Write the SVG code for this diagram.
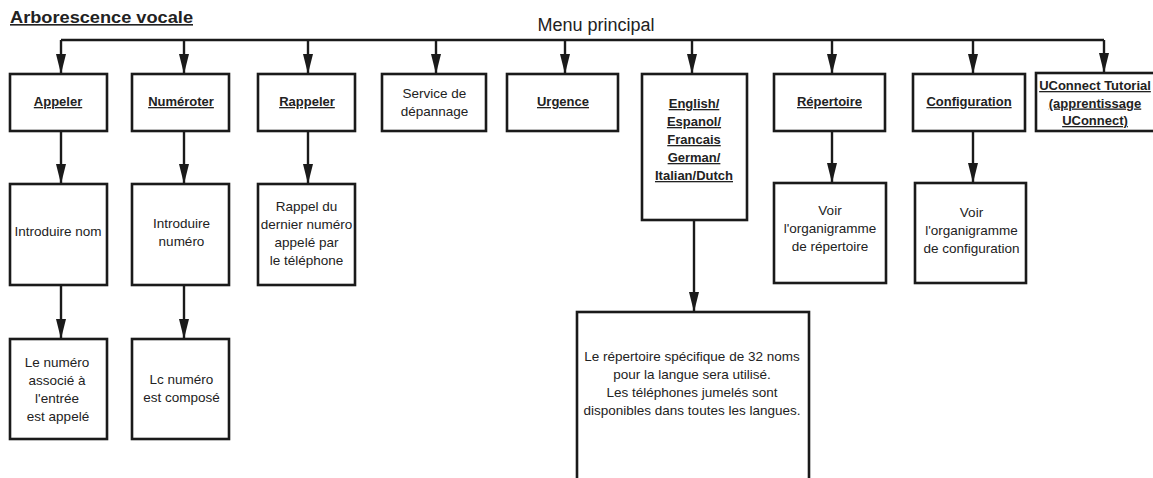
<svg xmlns="http://www.w3.org/2000/svg" width="1153" height="478" viewBox="0 0 1153 478">
<defs>
<style>
.bx{fill:#fff;stroke:#1a1a1a;stroke-width:2.6}
.cn{fill:none;stroke:#1a1a1a;stroke-width:2.4}
text{font-family:"Liberation Sans",Arial,sans-serif;fill:#222;text-anchor:middle}
.t{font-size:13px;font-weight:bold;text-decoration:underline}
.n{font-size:13.5px}
</style>
<marker id="ah" viewBox="0 0 20 10" refX="20" refY="5" markerWidth="20" markerHeight="10" markerUnits="userSpaceOnUse" orient="auto">
<path d="M0,0 L20,5 L0,10 Z" fill="#1a1a1a"/>
</marker>
</defs>
<rect width="1153" height="478" fill="#fff"/>
<text x="10" y="23" style="font-size:16px;font-weight:bold;text-anchor:start;text-decoration:underline" textLength="183" lengthAdjust="spacingAndGlyphs">Arborescence vocale</text>
<text x="596" y="31" style="font-size:18px">Menu principal</text>
<g id="connectors">
<path class="cn" d="M61,40 H1104"/>
<path class="cn" d="M61,40 V74" marker-end="url(#ah)"/>
<path class="cn" d="M184,40 V74" marker-end="url(#ah)"/>
<path class="cn" d="M308,40 V74" marker-end="url(#ah)"/>
<path class="cn" d="M436,40 V74" marker-end="url(#ah)"/>
<path class="cn" d="M565,40 V74" marker-end="url(#ah)"/>
<path class="cn" d="M692,40 V74" marker-end="url(#ah)"/>
<path class="cn" d="M832,40 V74" marker-end="url(#ah)"/>
<path class="cn" d="M973,40 V74" marker-end="url(#ah)"/>
<path class="cn" d="M1104,40 V73" marker-end="url(#ah)"/>
<path class="cn" d="M61,131 V184" marker-end="url(#ah)"/>
<path class="cn" d="M184,131 V184" marker-end="url(#ah)"/>
<path class="cn" d="M308,131 V184" marker-end="url(#ah)"/>
<path class="cn" d="M832,131 V183" marker-end="url(#ah)"/>
<path class="cn" d="M973,131 V183" marker-end="url(#ah)"/>
<path class="cn" d="M61,285 V339" marker-end="url(#ah)"/>
<path class="cn" d="M184,285 V339" marker-end="url(#ah)"/>
<path class="cn" d="M694,220 V312" marker-end="url(#ah)"/>
</g>
<g id="appeler"><rect class="bx" x="10" y="74" width="97" height="57"/><text class="t" x="58" y="106">Appeler</text></g>
<g id="numeroter"><rect class="bx" x="132" y="74" width="97" height="57"/><text class="t" x="181" y="106">Numéroter</text></g>
<g id="rappeler"><rect class="bx" x="258" y="74" width="97" height="57"/><text class="t" x="307" y="106">Rappeler</text></g>
<g id="service"><rect class="bx" x="382" y="74" width="104" height="57"/><text class="n" x="434.5" y="98">Service de</text><text class="n" x="434.5" y="116">dépannage</text></g>
<g id="urgence"><rect class="bx" x="507" y="74" width="111" height="57"/><text class="t" x="563" y="106">Urgence</text></g>
<g id="langues"><rect class="bx" x="642" y="74" width="105" height="146"/>
<text class="t" x="694" y="108">English/</text><text class="t" x="694" y="126">Espanol/</text><text class="t" x="694" y="144">Francais</text><text class="t" x="694" y="162">German/</text><text class="t" x="694" y="180">Italian/Dutch</text></g>
<g id="repertoire"><rect class="bx" x="774" y="74" width="111" height="57"/><text class="t" x="829.5" y="106">Répertoire</text></g>
<g id="configuration"><rect class="bx" x="913" y="74" width="112" height="57"/><text class="t" x="969" y="106">Configuration</text></g>
<g id="tutorial"><rect class="bx" x="1036" y="73" width="122" height="58"/>
<text class="t" x="1095" y="90">UConnect Tutorial</text><text class="t" x="1095" y="107.5">(apprentissage</text><text class="t" x="1095" y="125">UConnect)</text></g>
<g id="introduire-nom"><rect class="bx" x="10" y="184" width="97" height="101"/><text class="n" x="58" y="236">Introduire nom</text></g>
<g id="introduire-numero"><rect class="bx" x="132" y="184" width="97" height="101"/><text class="n" x="181.5" y="228">Introduire</text><text class="n" x="181.5" y="246">numéro</text></g>
<g id="rappel"><rect class="bx" x="258" y="184" width="97" height="101"/>
<text class="n" x="306.5" y="211">Rappel du</text><text class="n" x="306.5" y="229">dernier numéro</text><text class="n" x="306.5" y="247">appelé par</text><text class="n" x="306.5" y="265">le téléphone</text></g>
<g id="voir-repertoire"><rect class="bx" x="774" y="183" width="112" height="100"/>
<text class="n" x="830" y="215">Voir</text><text class="n" x="830" y="233">l'organigramme</text><text class="n" x="830" y="251">de répertoire</text></g>
<g id="voir-configuration"><rect class="bx" x="915" y="183" width="111" height="100"/>
<text class="n" x="971.5" y="217">Voir</text><text class="n" x="971.5" y="235">l'organigramme</text><text class="n" x="971.5" y="253">de configuration</text></g>
<g id="numero-appele"><rect class="bx" x="10" y="339" width="97" height="100"/>
<text class="n" x="57" y="367">Le numéro</text><text class="n" x="57" y="385">associé à</text><text class="n" x="57" y="403">l'entrée</text><text class="n" x="58" y="421">est appelé</text></g>
<g id="numero-compose"><rect class="bx" x="132" y="339" width="97" height="100"/>
<text class="n" x="181.5" y="384">Lc numéro</text><text class="n" x="181.5" y="402">est composé</text></g>
<g id="repertoire-langue"><rect class="bx" x="577" y="312" width="232" height="180"/>
<text class="n" x="692" y="361">Le répertoire spécifique de 32 noms</text><text class="n" x="692" y="379">pour la langue sera utilisé.</text><text class="n" x="692" y="397">Les téléphones jumelés sont</text><text class="n" x="692" y="415">disponibles dans toutes les langues.</text></g>
</svg>
